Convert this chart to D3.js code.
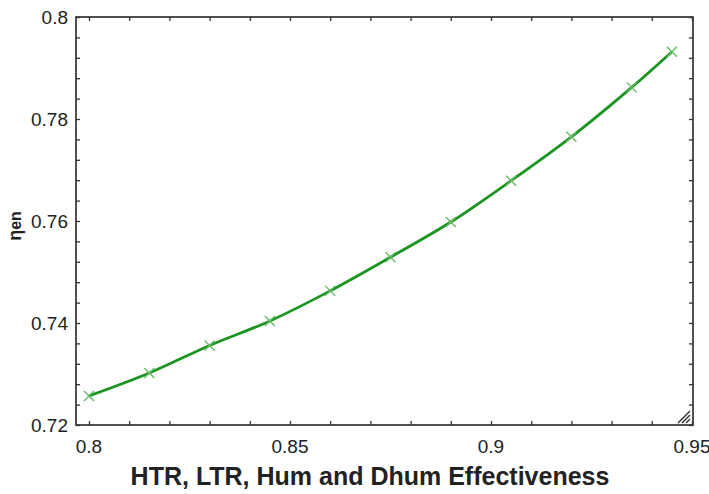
<!DOCTYPE html>
<html>
<head>
<meta charset="utf-8">
<script src="https://cdn.jsdelivr.net/npm/d3@7/dist/d3.min.js"></script>
<style>
  html, body { margin: 0; padding: 0; background: #fff; }
  svg { display: block; font-family: "Liberation Sans", Arial, sans-serif; }
</style>
</head>
<body>
<svg id="chart" width="709" height="494"></svg>
<script>
// Effectiveness of HTR, LTR, Hum and Dhum vs energy efficiency
const effectiveness = [0.8, 0.815, 0.83, 0.845, 0.86, 0.875, 0.89, 0.905, 0.92, 0.935, 0.945];
const etaEn = [0.7257, 0.7302, 0.7356, 0.7404, 0.7463, 0.7529, 0.7598, 0.7679, 0.7765, 0.7862, 0.7932];

const xTickLabels = ["0.8", "0.85", "0.9", "0.95"];
const yTickLabels = ["0.72", "0.74", "0.76", "0.78", "0.8"];

const svg = d3.select("#chart");
const pLeft = 76, pRight = 693, pTop = 17, pBottom = 425;

const x = d3.scaleLinear().domain([0.79677, 0.95025]).range([pLeft, pRight]);
const y = d3.scaleLinear().domain([0.72, 0.8]).range([pBottom, pTop]);

const frame = "#333";

// minor tick positions (every 0.01 on x, every 0.004 on y)
const xMinor = d3.range(0, 16).map(i => +(0.8 + i * 0.01).toFixed(3));
const yMinor = d3.range(0, 21).map(i => +(0.72 + i * 0.004).toFixed(4));

const tickLen = 4;
const g = svg.append("g");

// inward ticks on all four sides
const axBottom = d3.axisBottom(x).tickValues(xMinor).tickSize(-tickLen).tickFormat("");
const axTop = d3.axisTop(x).tickValues(xMinor).tickSize(-tickLen).tickFormat("");
const axLeft = d3.axisLeft(y).tickValues(yMinor).tickSize(-tickLen).tickFormat("");
const axRight = d3.axisRight(y).tickValues(yMinor).tickSize(-tickLen).tickFormat("");

[[axBottom, `translate(0,${pBottom})`], [axTop, `translate(0,${pTop})`],
 [axLeft, `translate(${pLeft},0)`], [axRight, `translate(${pRight},0)`]].forEach(([ax, tr]) => {
  const a = g.append("g").attr("transform", tr).call(ax);
  a.select(".domain").remove();
  a.selectAll(".tick line").attr("stroke", frame).attr("stroke-width", 1.3);
});

// frame
g.append("rect")
  .attr("x", pLeft).attr("y", pTop)
  .attr("width", pRight - pLeft).attr("height", pBottom - pTop)
  .attr("fill", "none").attr("stroke", frame).attr("stroke-width", 1.7);

// tick labels
g.selectAll("text.xl").data(xTickLabels).enter().append("text")
  .attr("class", "xl")
  .attr("x", d => x(+d)).attr("y", pBottom + 28)
  .attr("text-anchor", "middle")
  .attr("font-size", 19).attr("fill", "#222")
  .text(d => d);

g.selectAll("text.yl").data(yTickLabels).enter().append("text")
  .attr("class", "yl")
  .attr("x", pLeft - 8).attr("y", d => y(+d) + 7)
  .attr("text-anchor", "end")
  .attr("font-size", 19).attr("fill", "#222")
  .text(d => d);

// axis titles
svg.append("text")
  .attr("x", 370).attr("y", 485)
  .attr("text-anchor", "middle")
  .attr("font-size", 25).attr("font-weight", "bold").attr("fill", "#222")
  .text("HTR, LTR, Hum and Dhum Effectiveness");

const yTitle = svg.append("text")
  .attr("transform", "translate(21,226) rotate(-90)")
  .attr("text-anchor", "middle")
  .attr("font-size", 18).attr("font-weight", "bold").attr("fill", "#222");
yTitle.append("tspan").text("η");
yTitle.append("tspan").attr("font-size", 16).text("en");

// curve
const pts = effectiveness.map((v, i) => [v, etaEn[i]]);
svg.append("path")
  .datum(pts)
  .attr("fill", "none")
  .attr("stroke", "#1c9422")
  .attr("stroke-width", 2.8)
  .attr("d", d3.line().x(d => x(d[0])).y(d => y(d[1])).curve(d3.curveCatmullRom));

// cross markers
const s = 5;
svg.append("g").selectAll("path.mk").data(pts).enter().append("path")
  .attr("class", "mk")
  .attr("d", d => {
    const cx = x(d[0]), cy = y(d[1]);
    return `M${cx - s},${cy - s}L${cx + s},${cy + s}M${cx - s},${cy + s}L${cx + s},${cy - s}`;
  })
  .attr("stroke", "#66bb66").attr("stroke-width", 1.4).attr("fill", "none");

// resize grip in the lower-right corner
const grip = svg.append("g").attr("stroke", "#333").attr("stroke-width", 1.4);
[4, 8, 12].forEach(k => {
  grip.append("line")
    .attr("x1", pRight - 3 - k).attr("y1", pBottom - 2)
    .attr("x2", pRight - 3).attr("y2", pBottom - 2 - k);
});
</script>
</body>
</html>
